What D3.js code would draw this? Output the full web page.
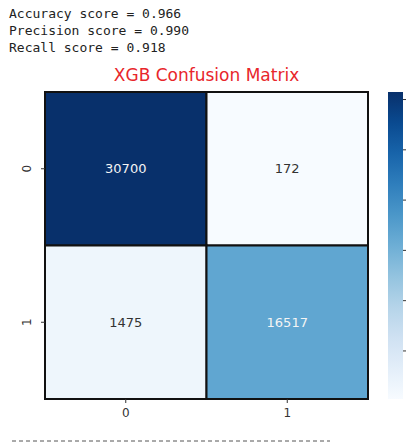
<!DOCTYPE html>
<html>
<head>
<meta charset="utf-8">
<script src="https://cdn.jsdelivr.net/npm/d3@7"></script>
<style>
  body { margin: 0; background: #fff; }
</style>
</head>
<body>
<div id="chart"></div>
<script>
// data
var scoreLines = ["Accuracy score = 0.966", "Precision score = 0.990", "Recall score = 0.918"];
var labels = ["0", "1"];
var matrix = [[30700, 172], [1475, 16517]];
var barTicks = [5000, 10000, 15000, 20000, 25000, 30000];

var W = 406, H = 444;
var svg = d3.select("#chart").append("svg").attr("width", W).attr("height", H);

// score text
svg.append("g").selectAll("text")
  .data(scoreLines)
  .join("text")
    .attr("x", 9)
    .attr("y", (d, i) => 18 + i * 17)
    .attr("font-family", "DejaVu Sans Mono, monospace")
    .attr("font-size", 13)
    .attr("fill", "#222")
    .text(d => d);

// layout
var mLeft = 45, mRight = 368, mTop = 92, mBottom = 399;
var x = d3.scaleBand().domain(labels).range([mLeft, mRight]);
var y = d3.scaleBand().domain(labels).range([mTop, mBottom]);

var flat = [];
matrix.forEach((row, i) => row.forEach((v, j) => flat.push({r: labels[i], c: labels[j], v: v})));
var vmin = d3.min(flat, d => d.v), vmax = d3.max(flat, d => d.v);
var color = d3.scaleSequential(d3.interpolateBlues).domain([vmin, vmax]);

// title
svg.append("text")
  .attr("x", (mLeft + mRight) / 2)
  .attr("y", 81)
  .attr("text-anchor", "middle")
  .attr("font-family", "DejaVu Sans, sans-serif")
  .attr("font-size", 17)
  .attr("fill", "#e8262b")
  .text("XGB Confusion Matrix");

// cells
svg.append("g").selectAll("rect")
  .data(flat)
  .join("rect")
    .attr("x", d => x(d.c))
    .attr("y", d => y(d.r))
    .attr("width", x.bandwidth())
    .attr("height", y.bandwidth())
    .attr("fill", d => color(d.v))
    .attr("stroke", "#111")
    .attr("stroke-width", 2);

svg.append("g").selectAll("text")
  .data(flat)
  .join("text")
    .attr("x", d => x(d.c) + x.bandwidth() / 2)
    .attr("y", d => y(d.r) + y.bandwidth() / 2)
    .attr("dy", "0.35em")
    .attr("text-anchor", "middle")
    .attr("font-family", "DejaVu Sans, sans-serif")
    .attr("font-size", 13)
    .attr("fill", d => (d.v - vmin) / (vmax - vmin) > 0.4 ? "#f4f4f4" : "#333")
    .text(d => d.v);

// axes
var axisFont = "DejaVu Sans, sans-serif";
var xAxis = svg.append("g")
  .attr("transform", "translate(0," + mBottom + ")")
  .call(d3.axisBottom(x).tickSize(4).tickPadding(5));
var yAxis = svg.append("g")
  .attr("transform", "translate(" + mLeft + ",0)")
  .call(d3.axisLeft(y).tickSize(4).tickPadding(5));
[xAxis, yAxis].forEach(a => {
  a.select(".domain").remove();
  a.selectAll("line").attr("stroke", "#333");
  a.selectAll("text").attr("font-family", axisFont).attr("font-size", 12).attr("fill", "#333");
});
yAxis.selectAll(".tick text")
  .attr("transform", "rotate(-90)")
  .attr("x", 0).attr("y", -14)
  .attr("dy", "0")
  .attr("text-anchor", "middle");

// colorbar
var cbX = 388, cbW = 15;
var cbScale = d3.scaleLinear().domain([vmin, vmax]).range([mBottom, mTop]);
var defs = svg.append("defs");
var grad = defs.append("linearGradient").attr("id", "cbgrad")
  .attr("x1", 0).attr("y1", 1).attr("x2", 0).attr("y2", 0);
d3.range(0, 1.01, 0.1).forEach(t => {
  grad.append("stop").attr("offset", t).attr("stop-color", d3.interpolateBlues(t));
});
svg.append("rect")
  .attr("x", cbX).attr("y", mTop)
  .attr("width", cbW).attr("height", mBottom - mTop)
  .attr("fill", "url(#cbgrad)");
var cbAxis = svg.append("g")
  .attr("transform", "translate(" + (cbX + cbW) + ",0)")
  .call(d3.axisRight(cbScale).tickValues(barTicks).tickSize(4).tickFormat(""));
cbAxis.select(".domain").remove();
cbAxis.selectAll("line").attr("stroke", "#333");

// dashed separator
svg.append("line")
  .attr("x1", 12).attr("x2", 330)
  .attr("y1", 441).attr("y2", 441)
  .attr("stroke", "#555")
  .attr("stroke-width", 1)
  .attr("stroke-dasharray", "4,3");
</script>
</body>
</html>
